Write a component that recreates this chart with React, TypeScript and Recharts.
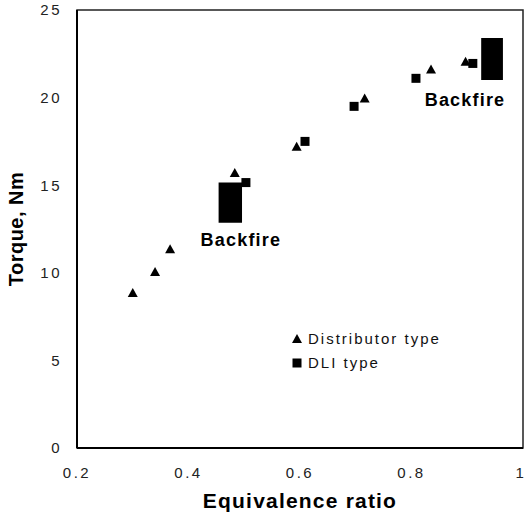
import React from 'react';
import {
  ScatterChart,
  Scatter,
  XAxis,
  YAxis,
  ReferenceArea,
  ReferenceDot,
  Label,
  Legend,
} from 'recharts';

// Distributor type (triangles)
const distributorX = [0.3, 0.34, 0.367, 0.483, 0.594, 0.716, 0.835, 0.897];
const distributorY = [8.85, 10.05, 11.35, 15.7, 17.2, 19.95, 21.6, 22.05];

// DLI type (squares)
const dliX = [0.503, 0.609, 0.697, 0.808, 0.91];
const dliY = [15.15, 17.5, 19.5, 21.1, 21.95];

// backfire ranges (DLI)
const backfireX1 = [0.454, 0.925];
const backfireX2 = [0.496, 0.964];
const backfireY1 = [12.85, 21.0];
const backfireY2 = [15.15, 23.4];

const noteX = [0.494, 0.896];
const noteY = [11.9, 19.9];
const noteText = ['Backfire', 'Backfire'];

const xTicks = [0.2, 0.4, 0.6, 0.8, 1];
const yTicks = [0, 5, 10, 15, 20, 25];
const seriesNames = ['Distributor type', 'DLI type'];

const FONT = '"Liberation Sans", Arial, sans-serif';

const distributorData = distributorX.map((x, i) => ({ x, y: distributorY[i] }));
const dliData = dliX.map((x, i) => ({ x, y: dliY[i] }));

const TriangleShape = (props: any) => {
  const { cx, cy } = props;
  return <polygon points={`${cx},${cy - 5} ${cx + 5},${cy + 4} ${cx - 5},${cy + 4}`} fill="#000" />;
};

const SquareShape = (props: any) => {
  const { cx, cy } = props;
  return <rect x={cx - 4.5} y={cy - 4.5} width={9} height={9} fill="#000" />;
};

const renderLegend = () => (
  <div style={{ fontFamily: FONT, fontSize: 15, letterSpacing: 2, color: '#111', lineHeight: '24px' }}>
    {seriesNames.map((name, i) => (
      <div key={name} style={{ display: 'flex', alignItems: 'center' }}>
        <svg width={14} height={12} style={{ marginRight: 2 }}>
          {i === 0 ? (
            <polygon points="5,1 10,10 0,10" fill="#000" />
          ) : (
            <rect x={0.5} y={1.5} width={9} height={9} fill="#000" />
          )}
        </svg>
        <span>{name}</span>
      </div>
    ))}
  </div>
);

export default function App() {
  return (
    <div style={{ position: 'absolute', left: 0, top: 0, background: '#fff' }}>
      <ScatterChart width={526} height={515} margin={{ top: 10, right: 3, bottom: 0, left: 0 }}>
        <ReferenceArea x1={0.2} x2={1} y1={0} y2={25} fill="none" stroke="#222" strokeWidth={1.5} />
        <XAxis
          type="number"
          dataKey="x"
          domain={[0.2, 1]}
          ticks={xTicks}
          allowDataOverflow
          height={67}
          tickLine={false}
          tickSize={0}
          tickMargin={19}
          axisLine={{ stroke: '#000', strokeWidth: 2 }}
          tick={{ fill: '#222', fontSize: 15, fontFamily: FONT, letterSpacing: 2.5 }}
          tickFormatter={(v: number) => (v === 1 ? '1' : v.toFixed(1))}
        >
          <Label
            value="Equivalence ratio"
            position="center"
            dy={19}
            style={{ fontFamily: FONT, fontSize: 21, fontWeight: 'bold', fill: '#000', letterSpacing: 1.2 }}
          />
        </XAxis>
        <YAxis
          type="number"
          dataKey="y"
          domain={[0, 25]}
          ticks={yTicks}
          allowDataOverflow
          width={77}
          tickLine={false}
          tickSize={0}
          tickMargin={15}
          axisLine={{ stroke: '#000', strokeWidth: 2 }}
          tick={{ fill: '#222', fontSize: 15, fontFamily: FONT, letterSpacing: 2.5 }}
        >
          <Label
            value="Torque, Nm"
            angle={-90}
            position="center"
            dx={-23}
            style={{ fontFamily: FONT, fontSize: 20, fontWeight: 'bold', fill: '#000', letterSpacing: 0.5 }}
          />
        </YAxis>
        {backfireX1.map((x1, i) => (
          <ReferenceArea
            key={`bf-${i}`}
            x1={x1}
            x2={backfireX2[i]}
            y1={backfireY1[i]}
            y2={backfireY2[i]}
            fill="#000"
            fillOpacity={1}
            stroke="none"
          />
        ))}
        {noteX.map((x, i) => (
          <ReferenceDot
            key={`note-${i}`}
            x={x}
            y={noteY[i]}
            r={0}
            fill="none"
            stroke="none"
            label={
              <Label
                value={noteText[i]}
                position="center"
                style={{ fontFamily: FONT, fontSize: 18, fontWeight: 'bold', fill: '#000', letterSpacing: 1.2 }}
              />
            }
          />
        ))}
        <Scatter
          name={seriesNames[0]}
          data={distributorData}
          shape={TriangleShape}
          isAnimationActive={false}
        />
        <Scatter name={seriesNames[1]} data={dliData} shape={SquareShape} isAnimationActive={false} />
        <Legend
          layout="horizontal"
          verticalAlign="middle"
          align="center"
          content={renderLegend}
          wrapperStyle={{ position: 'absolute', left: 292, top: 327, width: 220, height: 50 }}
        />
      </ScatterChart>
    </div>
  );
}
